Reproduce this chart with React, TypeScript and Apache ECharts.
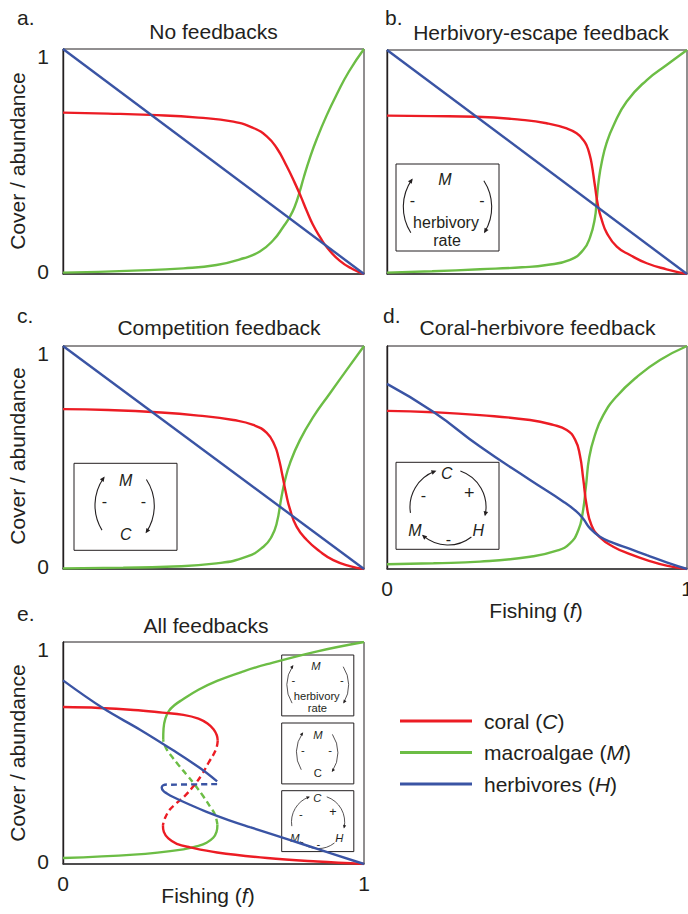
import React, { useEffect, useRef } from "react";
import * as echarts from "echarts";

const RED = "#ec1c24";
const GREEN = "#6cbd45";
const BLUE = "#3a54a4";
const INK = "#231f20";
const FONT = '"Liberation Sans", Arial, Helvetica, sans-serif';

// ---- texts ----
const panelTitles = ["No feedbacks", "Herbivory-escape feedback", "Competition feedback", "Coral-herbivore feedback", "All feedbacks"];
const panelLetters = ["a.", "b.", "c.", "d.", "e."];
const yTickValues = [0, 1];
const xTickValues = [0, 1];
const legendNames = ["coral", "macroalgae", "herbivores"];
const legendSymbols = ["C", "M", "H"];

// ---- data: [fishing f, cover/abundance] ----
const aCoral = [[0, 0.717], [0.15, 0.713], [0.29, 0.707], [0.45, 0.695], [0.566, 0.677], [0.632, 0.649], [0.677, 0.612], [0.71, 0.56], [0.743, 0.48], [0.77, 0.405], [0.79, 0.345], [0.81, 0.28], [0.83, 0.22], [0.855, 0.162], [0.876, 0.12], [0.92, 0.058], [0.965, 0.02], [1, 0]];
const aMacro = [[0, 0.006], [0.234, 0.015], [0.4, 0.025], [0.51, 0.04], [0.6, 0.07], [0.654, 0.1], [0.699, 0.151], [0.732, 0.21], [0.754, 0.255], [0.77, 0.3], [0.785, 0.36], [0.8, 0.43], [0.82, 0.515], [0.843, 0.6], [0.876, 0.705], [0.91, 0.8], [0.95, 0.9], [1, 1]];
const aHerb = [[0, 1], [1, 0]];

const bCoral = [[0, 0.707], [0.15, 0.705], [0.299, 0.702], [0.45, 0.688], [0.532, 0.673], [0.599, 0.65], [0.632, 0.628], [0.655, 0.597], [0.666, 0.572], [0.675, 0.535], [0.682, 0.494], [0.693, 0.395], [0.704, 0.3], [0.716, 0.241], [0.732, 0.185], [0.766, 0.122], [0.81, 0.085], [0.866, 0.048], [0.932, 0.021], [1, 0]];
const bMacro = [[0, 0.006], [0.15, 0.012], [0.31, 0.021], [0.45, 0.03], [0.532, 0.04], [0.61, 0.063], [0.654, 0.107], [0.677, 0.165], [0.693, 0.25], [0.699, 0.33], [0.706, 0.42], [0.716, 0.5], [0.732, 0.585], [0.754, 0.66], [0.799, 0.77], [0.866, 0.866], [0.932, 0.933], [1, 1]];
const bHerb = [[0, 1], [1, 0]];

const cCoral = [[0, 0.717], [0.15, 0.713], [0.311, 0.703], [0.45, 0.688], [0.566, 0.668], [0.632, 0.646], [0.677, 0.61], [0.704, 0.552], [0.716, 0.5], [0.726, 0.44], [0.741, 0.339], [0.754, 0.268], [0.776, 0.19], [0.81, 0.13], [0.854, 0.078], [0.898, 0.04], [0.953, 0.013], [1, 0]];
const cMacro = [[0, 0.003], [0.2, 0.006], [0.344, 0.01], [0.51, 0.025], [0.61, 0.055], [0.666, 0.1], [0.693, 0.145], [0.71, 0.205], [0.726, 0.324], [0.738, 0.4], [0.754, 0.474], [0.787, 0.578], [0.832, 0.683], [0.887, 0.788], [0.942, 0.892], [1, 1]];
const cHerb = [[0, 1], [1, 0]];

const dCoral = [[0, 0.709], [0.154, 0.703], [0.31, 0.69], [0.477, 0.668], [0.554, 0.646], [0.599, 0.623], [0.627, 0.58], [0.643, 0.51], [0.654, 0.405], [0.666, 0.28], [0.682, 0.195], [0.71, 0.142], [0.754, 0.1], [0.81, 0.067], [0.866, 0.04], [0.932, 0.015], [1, 0]];
const dMacro = [[0, 0.021], [0.155, 0.026], [0.31, 0.033], [0.477, 0.055], [0.566, 0.082], [0.61, 0.115], [0.638, 0.175], [0.652, 0.25], [0.663, 0.369], [0.674, 0.5], [0.693, 0.6], [0.721, 0.69], [0.766, 0.775], [0.832, 0.86], [0.91, 0.937], [1, 1]];
const dHerb = [[0, 0.83], [0.154, 0.705], [0.31, 0.549], [0.477, 0.399], [0.588, 0.302], [0.632, 0.257], [0.654, 0.225], [0.677, 0.182], [0.71, 0.145], [0.754, 0.117], [0.81, 0.09], [0.866, 0.062], [0.932, 0.03], [1, 0]];

const eCoralHigh = [[0, 0.707], [0.12, 0.703], [0.235, 0.694], [0.33, 0.682], [0.4, 0.672], [0.45, 0.655], [0.48, 0.633], [0.5, 0.607], [0.511, 0.58], [0.514, 0.555]];
const eCoralMid = [[0.514, 0.555], [0.508, 0.515], [0.483, 0.455], [0.461, 0.402], [0.433, 0.35], [0.405, 0.307], [0.378, 0.275], [0.355, 0.245], [0.339, 0.207], [0.332, 0.175]];
const eCoralLow = [[0.332, 0.175], [0.335, 0.145], [0.35, 0.115], [0.378, 0.091], [0.422, 0.075], [0.512, 0.052], [0.678, 0.027], [0.845, 0.011], [1, 0]];
const eMacroLow = [[0, 0.027], [0.235, 0.042], [0.4, 0.066], [0.45, 0.082], [0.477, 0.096], [0.499, 0.118], [0.51, 0.145], [0.513, 0.177]];
const eMacroMid = [[0.513, 0.177], [0.505, 0.222], [0.488, 0.26], [0.466, 0.305], [0.438, 0.357], [0.411, 0.402], [0.383, 0.447], [0.361, 0.485], [0.345, 0.515], [0.335, 0.545], [0.333, 0.56]];
const eMacroHigh = [[0.333, 0.56], [0.334, 0.61], [0.34, 0.655], [0.352, 0.69], [0.37, 0.715], [0.394, 0.738], [0.45, 0.785], [0.512, 0.825], [0.6, 0.868], [0.678, 0.9], [0.845, 0.958], [1, 1]];
const eHerbHigh = [[0, 0.827], [0.135, 0.7], [0.256, 0.605], [0.366, 0.512], [0.455, 0.432], [0.512, 0.372]];
const eHerbMid = [[0.512, 0.36], [0.345, 0.357]];
const eHerbLow = [[0.345, 0.358], [0.333, 0.355], [0.328, 0.345], [0.333, 0.33], [0.345, 0.318], [0.366, 0.302], [0.42, 0.268], [0.477, 0.235], [0.55, 0.198], [0.621, 0.166], [0.75, 0.11], [0.845, 0.068], [1, 0]];

// ---- layout ----
const grids = [
  { left: 63, top: 49, width: 301, height: 225 },
  { left: 387, top: 50, width: 300, height: 224 },
  { left: 63, top: 346, width: 301, height: 223 },
  { left: 387, top: 346, width: 300, height: 223 },
  { left: 63, top: 642, width: 301, height: 222 },
];
const showY = [true, false, true, false, true];
const showX = [false, false, false, true, true];

function lineSeries(name: string, color: string, data: number[][], gi: number, dashed = false, smooth = 0.5) {
  return {
    type: "line",
    name,
    xAxisIndex: gi,
    yAxisIndex: gi,
    data,
    symbol: "none",
    showSymbol: false,
    smooth,
    silent: true,
    color,
    itemStyle: { color },
    lineStyle: { color, width: 2.4, type: dashed ? [6, 4] : "solid", cap: "butt" },
  };
}

function txt(x: number, y: number, text: string, size: number, o: any = {}) {
  const align = o.align || "center";
  return {
    type: "text",
    x,
    y,
    rotation: o.rotation || 0,
    silent: true,
    style: {
      text,
      fontSize: size,
      fontFamily: FONT,
      fontStyle: o.italic ? "italic" : "normal",
      fill: INK,
      align,
      verticalAlign: "middle",
      textAlign: align,
      textVerticalAlign: "middle",
      rich: o.rich,
    },
  };
}

const deg = Math.PI / 180;
function arcArrow(cx: number, cy: number, r: number, a0: number, a1: number) {
  const t0 = a0 * deg;
  const t1 = a1 * deg;
  const px = cx + r * Math.cos(t1);
  const py = cy + r * Math.sin(t1);
  const dx = -Math.sin(t1);
  const dy = Math.cos(t1);
  const nx = -dy;
  const ny = dx;
  const L = 5;
  const W = 2.3;
  const tip = [px + dx * 1.5, py + dy * 1.5];
  const b1 = [px - dx * (L - 1.5) + nx * W, py - dy * (L - 1.5) + ny * W];
  const b2 = [px - dx * (L - 1.5) - nx * W, py - dy * (L - 1.5) - ny * W];
  return [
    { type: "arc", silent: true, shape: { cx, cy, r, startAngle: t0, endAngle: t1, clockwise: true }, style: { stroke: INK, lineWidth: 1.1, fill: "none" } },
    { type: "polygon", silent: true, shape: { points: [tip, b1, b2] }, style: { fill: INK, stroke: "none" } },
  ];
}

function inset(ox: number, oy: number, s: number, kind: string, cItalic = true) {
  const fs = 16;
  let children: any[] = [
    { type: "rect", silent: true, shape: { x: 0, y: 0, width: 103, height: 87 }, style: { fill: "#fff", stroke: INK, lineWidth: 1 / s } },
  ];
  if (kind === "herb") {
    children = children.concat([
      txt(49, 15, "M", fs, { italic: true }),
      txt(16.5, 36, "-", fs),
      txt(86, 36, "-", fs),
      txt(50, 58, "herbivory", fs),
      txt(51, 76, "rate", fs),
      ...arcArrow(55.3, 43, 48, 147.5, 214.7),
      ...arcArrow(47.7, 43, 48, 326.8, 391.2),
    ]);
  } else if (kind === "comp") {
    children = children.concat([
      txt(51.7, 16.7, "M", fs, { italic: true }),
      txt(30.3, 38.4, "-", fs),
      txt(69.3, 38.4, "-", fs),
      txt(51.7, 71, "C", fs, { italic: cItalic }),
      ...arcArrow(68.6, 42, 47.6, 148.6, 215.4),
      ...arcArrow(32.7, 42.5, 47.6, 326.5, 393.5),
    ]);
  } else {
    children = children.concat([
      txt(50.7, 11, "C", fs, { italic: true }),
      txt(73.3, 30.4, "+", fs + 2),
      txt(27.3, 32.7, "-", fs),
      txt(19, 67.7, "M", fs, { italic: true }),
      txt(82.3, 67.7, "H", fs, { italic: true }),
      txt(52.3, 76.7, "-", fs),
      ...arcArrow(52, 44.7, 38, 171, 250),
      ...arcArrow(52, 44.7, 38, 289, 372),
      ...arcArrow(52, 44.7, 38, 52, 131),
    ]);
  }
  return { type: "group", x: ox, y: oy, scaleX: s, scaleY: s, children };
}

function buildOption() {
  const xAxis = grids.map((_, i) => ({
    type: "value",
    gridIndex: i,
    min: 0,
    max: 1,
    interval: 1,
    splitLine: { show: false },
    axisTick: { show: false },
    axisLine: { show: true, onZero: false, lineStyle: { color: "#3a3a3a", width: 1.6 } },
    axisLabel: {
      show: showX[i],
      margin: 9,
      fontSize: 21,
      fontFamily: FONT,
      color: INK,
      formatter: (v: number) => (xTickValues.includes(v) ? String(v) : ""),
    },
  }));
  const yAxis = grids.map((_, i) => ({
    type: "value",
    gridIndex: i,
    min: 0,
    max: 1,
    interval: 1,
    splitLine: { show: false },
    axisTick: { show: false },
    axisLine: { show: true, onZero: false, lineStyle: { color: INK, width: 1.4 } },
    axisLabel: {
      show: showY[i],
      margin: 14,
      fontSize: 21,
      fontFamily: FONT,
      color: INK,
      formatter: (v: number) => (yTickValues.includes(v) ? (v === 1 ? "{t|1}" : "{b|0}") : ""),
      rich: {
        t: { fontSize: 21, fontFamily: FONT, color: INK, padding: [14, 0, 0, 0] },
        b: { fontSize: 21, fontFamily: FONT, color: INK, padding: [0, 0, 6, 0] },
      },
    },
  }));

  const series: any[] = [
    lineSeries("macroalgae", GREEN, aMacro, 0),
    lineSeries("coral", RED, aCoral, 0),
    lineSeries("herbivores", BLUE, aHerb, 0),
    lineSeries("macroalgae", GREEN, bMacro, 1),
    lineSeries("coral", RED, bCoral, 1),
    lineSeries("herbivores", BLUE, bHerb, 1),
    lineSeries("macroalgae", GREEN, cMacro, 2),
    lineSeries("coral", RED, cCoral, 2),
    lineSeries("herbivores", BLUE, cHerb, 2),
    lineSeries("macroalgae", GREEN, dMacro, 3),
    lineSeries("coral", RED, dCoral, 3),
    lineSeries("herbivores", BLUE, dHerb, 3),
    lineSeries("macroalgae", GREEN, eMacroLow, 4, false, 0.4),
    lineSeries("macroalgae", GREEN, eMacroMid, 4, true, 0.4),
    lineSeries("macroalgae", GREEN, eMacroHigh, 4, false, 0.4),
    lineSeries("coral", RED, eCoralHigh, 4, false, 0.4),
    lineSeries("coral", RED, eCoralMid, 4, true, 0.4),
    lineSeries("coral", RED, eCoralLow, 4, false, 0.4),
    lineSeries("herbivores", BLUE, eHerbHigh, 4, false, 0.4),
    lineSeries("herbivores", BLUE, eHerbMid, 4, true, 0.4),
    lineSeries("herbivores", BLUE, eHerbLow, 4, false, 0.4),
  ];

  const letterPos = [[17, 17], [385, 17], [17, 315], [383, 315], [17, 613]];
  const titlePos = [[213.5, 31], [541, 32], [219, 327], [537.5, 327], [206, 625]];
  const richName = {
    i: { fontStyle: "italic", fontSize: 21, fontFamily: FONT, fill: INK, color: INK },
  };

  const graphic: any[] = [];
  panelLetters.forEach((l, i) => graphic.push(txt(letterPos[i][0], letterPos[i][1], l, 21, { align: "left" })));
  panelTitles.forEach((t, i) => graphic.push(txt(titlePos[i][0], titlePos[i][1], t, 21)));
  [161, 456, 753].forEach((y) => graphic.push(txt(17, y, "Cover / abundance", 21, { rotation: Math.PI / 2 })));
  graphic.push(txt(536, 610, "Fishing ({i|f})", 21, { rich: richName }));
  graphic.push(txt(208, 895, "Fishing ({i|f})", 21, { rich: richName }));
  graphic.push(inset(396, 164, 1, "herb"));
  graphic.push(inset(74, 463.3, 1, "comp"));
  graphic.push(inset(396, 462.3, 1, "coral"));
  graphic.push(inset(281.7, 655, 0.7, "herb"));
  graphic.push(inset(281.7, 723, 0.7, "comp", false));
  graphic.push(inset(281.7, 790.7, 0.7, "coral"));

  return {
    animation: false,
    backgroundColor: "#ffffff",
    grid: grids.map((g) => ({ ...g, show: true, borderColor: INK, borderWidth: 1, backgroundColor: "transparent", containLabel: false, outerBoundsMode: "none" })),
    xAxis,
    yAxis,
    legend: {
      data: legendNames,
      orient: "vertical",
      left: 395,
      top: 704,
      itemWidth: 72,
      itemHeight: 3,
      itemGap: 7.5,
      icon: "rect",
      selectedMode: false,
      formatter: (n: string) => `${n} ({i|${legendSymbols[legendNames.indexOf(n)]}})`,
      textStyle: {
        fontSize: 21,
        fontFamily: FONT,
        color: INK,
        lineHeight: 24,
        padding: [0, 0, 0, 7],
        rich: { i: { fontStyle: "italic", fontSize: 21, fontFamily: FONT, color: INK } },
      },
    },
    series,
    graphic,
  };
}

export default function App() {
  const ref = useRef<HTMLDivElement>(null);
  useEffect(() => {
    if (!ref.current) return;
    const chart = echarts.init(ref.current, null, { renderer: "svg", width: 688, height: 914 });
    chart.setOption(buildOption() as any);
    return () => chart.dispose();
  }, []);
  return <div ref={ref} style={{ position: "absolute", left: 0, top: 0, width: 688, height: 914 }} />;
}
